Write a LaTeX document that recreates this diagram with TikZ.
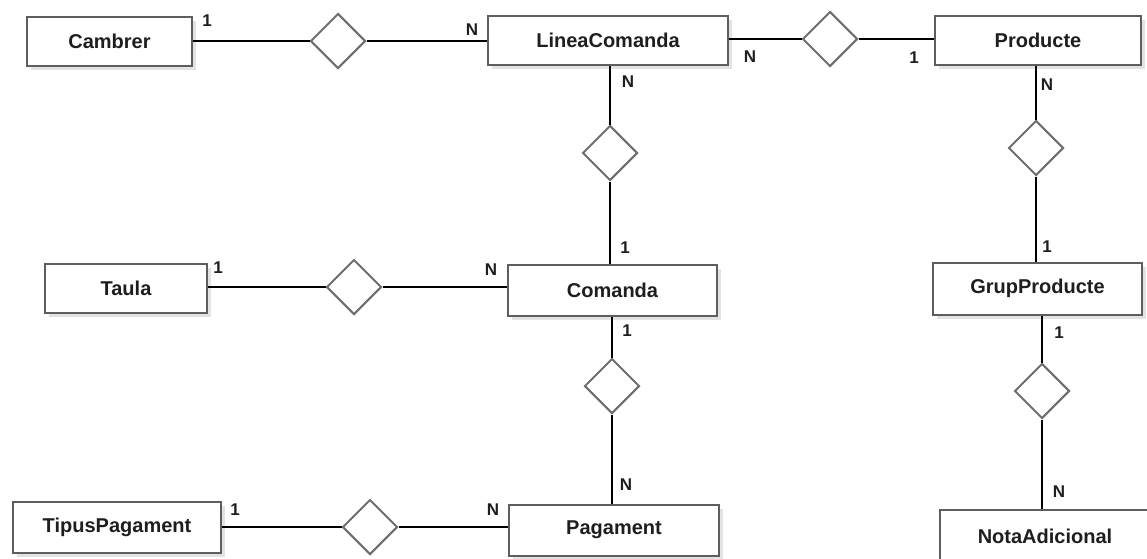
\documentclass[tikz,border=0pt]{standalone}
\usepackage{fontspec}
\setmainfont{Liberation Sans}
\usetikzlibrary{shapes.geometric,shadows}

\definecolor{boxline}{HTML}{5E5E5E}
\definecolor{relline}{HTML}{6E6E6E}
\definecolor{txt}{HTML}{1E1E1E}

\tikzset{
  entity/.style={draw=boxline,line width=2pt,fill=white,minimum height=49pt,
        inner sep=0pt,text=txt,font=\fontsize{20}{24}\selectfont\bfseries,
        drop shadow={opacity=0.22,shadow xshift=4pt,shadow yshift=-4pt}},
  rel/.style={diamond,draw=relline,line width=2pt,fill=white,aspect=1,
        minimum width=55pt,minimum height=55pt,inner sep=0pt},
  card/.style={text=txt,font=\fontsize{17}{20}\selectfont\bfseries,inner sep=0pt},
  link/.style={line width=1.4pt,black}
}

\begin{document}
\begin{tikzpicture}[x=1pt,y=-1pt]
      \useasboundingbox (0,0) rectangle (1147,558);

      % entitats
      \node[entity,minimum width=165pt] (cambrer) at (109.5,41.5) {Cambrer};
      \node[entity,minimum width=240pt] (linea) at (608,40) {LineaComanda};
      \node[entity,minimum width=206pt] (producte) at (1038,40) {Producte};
      \node[entity,minimum width=162pt] (taula) at (126,288) {Taula};
      \node[entity,minimum width=209pt,minimum height=51pt] (comanda) at (612.5,290.5) {Comanda};
      \node[entity,minimum width=209pt,minimum height=52pt] (grup) at (1037.5,288.5) {GrupProducte};
      \node[entity,minimum width=208pt,minimum height=51pt] (tipus) at (117,527.5) {TipusPagament};
      \node[entity,minimum width=210pt,minimum height=51pt] (pagament) at (614,530) {Pagament};
      \node[entity,minimum width=210pt,minimum height=52pt] (nota) at (1045,536) {NotaAdicional};

      % relacions
      \node[rel] (rA) at (338,41) {};
      \node[rel] (rB) at (830,39) {};
      \node[rel] (rC) at (1036,148) {};
      \node[rel] (rD) at (1042,391) {};
      \node[rel] (rE) at (610,153) {};
      \node[rel] (rF) at (354,287) {};
      \node[rel] (rG) at (612,386) {};
      \node[rel] (rH) at (370,527) {};

      \draw[link] (cambrer.east |- rA) -- (rA.west);
      \draw[link] (rA.east) -- (linea.west |- rA);
      \draw[link] (linea.east |- rB) -- (rB.west);
      \draw[link] (rB.east) -- (producte.west |- rB);
      \draw[link] (rE |- linea.south) -- (rE.north);
      \draw[link] (rE.south) -- (rE |- comanda.north);
      \draw[link] (taula.east |- rF) -- (rF.west);
      \draw[link] (rF.east) -- (comanda.west |- rF);
      \draw[link] (rG |- comanda.south) -- (rG.north);
      \draw[link] (rG.south) -- (rG |- pagament.north);
      \draw[link] (tipus.east |- rH) -- (rH.west);
      \draw[link] (rH.east) -- (pagament.west |- rH);
      \draw[link] (rC |- producte.south) -- (rC.north);
      \draw[link] (rC.south) -- (rC |- grup.north);
      \draw[link] (rD |- grup.south) -- (rD.north);
      \draw[link] (rD.south) -- (rD |- nota.north);

      % cardinalitats
      \node[card] (c1) at (207,21) {1};
      \node[card] (c2) at (472,30) {N};
      \node[card] (c3) at (750,57) {N};
      \node[card] (c4) at (914,58) {1};
      \node[card] (c5) at (628,82) {N};
      \node[card] (c6) at (1047,85) {N};
      \node[card] (c7) at (625,248) {1};
      \node[card] (c8) at (218,268) {1};
      \node[card] (c9) at (491,270) {N};
      \node[card] (c10) at (1047,247) {1};
      \node[card] (c11) at (627,331) {1};
      \node[card] (c12) at (1059,333) {1};
      \node[card] (c13) at (626,485) {N};
      \node[card] (c14) at (235,510) {1};
      \node[card] (c15) at (493,510) {N};
      \node[card] (c16) at (1059,492) {N};
\end{tikzpicture}
\end{document}
